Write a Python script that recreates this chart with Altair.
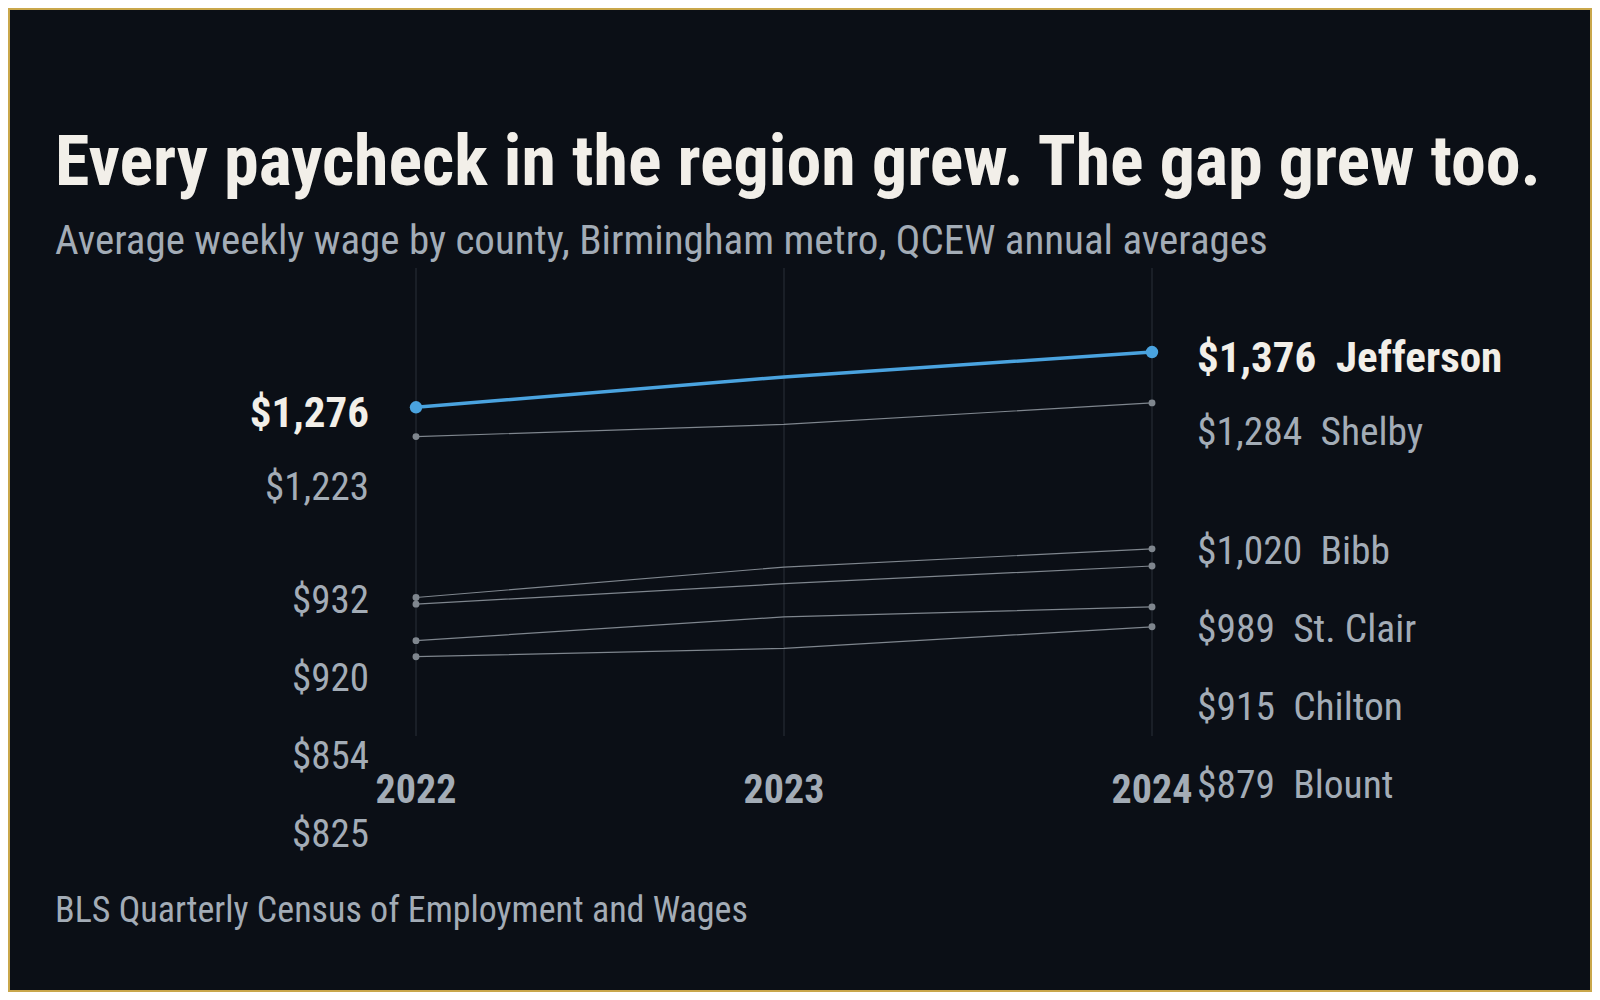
import pandas as pd
import altair as alt

# Average weekly wage (USD), Birmingham metro counties, QCEW annual averages
COUNTIES = ["Jefferson", "Shelby", "Bibb", "St. Clair", "Chilton", "Blount"]
YEARS = [2022, 2023, 2024]
WAGE_2022 = [1276, 1223, 932, 920, 854, 825]
WAGE_2023 = [1331, 1245, 987, 957, 897, 840]
WAGE_2024 = [1376, 1284, 1020, 989, 915, 879]
HIGHLIGHT = "Jefferson"

TITLE = "Every paycheck in the region grew. The gap grew too."
SUBTITLE = "Average weekly wage by county, Birmingham metro, QCEW annual averages"
SOURCE = "BLS Quarterly Census of Employment and Wages"

FONT = "Roboto Condensed"
BG = "#0b0f16"
GOLD = "#c9a74b"
INK = "#f2efe9"
MUTED = "#a3acb6"
GRID = "#2a3139"
GRAY = "#7f868e"
BLUE = "#4aa3df"

W, H = 736, 468
Y_DOMAIN = [681.5, 1528]
LABEL_GAP_PX = 78


def dodge(values):
    """Push labels apart (top to bottom) so they keep a minimum gap."""
    gap = LABEL_GAP_PX * (Y_DOMAIN[1] - Y_DOMAIN[0]) / H
    order = sorted(range(len(values)), key=lambda i: -values[i])
    pos = [0.0] * len(values)
    prev = None
    for i in order:
        p = values[i] if prev is None else min(values[i], prev - gap)
        pos[i] = p
        prev = p
    return pos


rows = []
for i, c in enumerate(COUNTIES):
    for y, w in zip(YEARS, [WAGE_2022[i], WAGE_2023[i], WAGE_2024[i]]):
        rows.append({"county": c, "year": y, "wage": w})
wages = pd.DataFrame(rows)

left_pos = dodge(WAGE_2022)
right_pos = dodge(WAGE_2024)
lab_rows = []
for i, c in enumerate(COUNTIES):
    lab_rows.append({"county": c, "side": "left", "year": 2022, "pos": left_pos[i],
                     "text": f"${WAGE_2022[i]:,}"})
    lab_rows.append({"county": c, "side": "right", "year": 2024, "pos": right_pos[i],
                     "text": f"${WAGE_2024[i]:,}\u00a0\u00a0{c}"})
labels = pd.DataFrame(lab_rows)
years_df = pd.DataFrame({"year": YEARS, "label": [str(y) for y in YEARS]})

x_scale = alt.Scale(domain=[2022, 2024], nice=False, zero=False)
y_scale = alt.Scale(domain=Y_DOMAIN, nice=False, zero=False)

# vertical year guides and bold year labels under them
grid = alt.Chart(years_df).mark_rule(color=GRID, strokeWidth=1).encode(
    x=alt.X("year:Q", scale=x_scale, axis=None),
    y=alt.value(0),
    y2=alt.value(H),
)
year_text = alt.Chart(years_df).mark_text(
    align="center", baseline="alphabetic", font=FONT, fontSize=40,
    fontWeight="bold", color=MUTED
).encode(
    x=alt.X("year:Q", scale=x_scale, axis=None),
    y=alt.value(H + 67),
    text="label:N",
)

base = alt.Chart(wages).encode(
    x=alt.X("year:Q", scale=x_scale, axis=None),
    y=alt.Y("wage:Q", scale=y_scale, axis=None),
    detail="county:N",
)
not_hl = alt.datum.county != HIGHLIGHT
is_hl = alt.datum.county == HIGHLIGHT
end_years = alt.datum.year != 2023

others_line = base.transform_filter(not_hl).mark_line(color=GRAY, strokeWidth=1.2)
others_pts = base.transform_filter(not_hl).transform_filter(end_years).mark_point(
    filled=True, color=GRAY, size=48, opacity=1
)
hl_line = base.transform_filter(is_hl).mark_line(color=BLUE, strokeWidth=3.5)
hl_pts = base.transform_filter(is_hl).transform_filter(end_years).mark_point(
    filled=True, color=BLUE, size=155, opacity=1
)

lab_base = alt.Chart(labels).encode(
    x=alt.X("year:Q", scale=x_scale, axis=None),
    y=alt.Y("pos:Q", scale=y_scale, axis=None),
    text="text:N",
)
left_reg = lab_base.transform_filter(alt.datum.side == "left").transform_filter(not_hl).mark_text(
    align="right", baseline="alphabetic", dx=-47, dy=15, font=FONT, fontSize=39, color=MUTED
)
left_bold = lab_base.transform_filter(alt.datum.side == "left").transform_filter(is_hl).mark_text(
    align="right", baseline="alphabetic", dx=-47, dy=20, font=FONT, fontSize=43,
    fontWeight="bold", color=INK
)
right_reg = lab_base.transform_filter(alt.datum.side == "right").transform_filter(not_hl).mark_text(
    align="left", baseline="alphabetic", dx=45, dy=15, font=FONT, fontSize=39.5, color=MUTED
)
right_bold = lab_base.transform_filter(alt.datum.side == "right").transform_filter(is_hl).mark_text(
    align="left", baseline="alphabetic", dx=45, dy=20, font=FONT, fontSize=43,
    fontWeight="bold", color=INK
)

# headline, dek and source line, placed relative to the plot area
title = alt.Chart(pd.DataFrame({"t": [TITLE]})).mark_text(
    align="left", baseline="alphabetic", font=FONT, fontSize=70, fontWeight="bold", color=INK
).encode(x=alt.value(-361), y=alt.value(-83), text="t:N")
subtitle = alt.Chart(pd.DataFrame({"t": [SUBTITLE]})).mark_text(
    align="left", baseline="alphabetic", font=FONT, fontSize=41, color=MUTED
).encode(x=alt.value(-361), y=alt.value(-14), text="t:N")
source = alt.Chart(pd.DataFrame({"t": [SOURCE]})).mark_text(
    align="left", baseline="alphabetic", font=FONT, fontSize=36, color=MUTED
).encode(x=alt.value(-361), y=alt.value(654), text="t:N")

frame = alt.Chart(pd.DataFrame({"k": [0]})).mark_rect(
    fillOpacity=0, stroke=GOLD, strokeWidth=2
).encode(x=alt.value(-407), x2=alt.value(1175), y=alt.value(-259), y2=alt.value(723))

chart = alt.layer(
    frame, grid, year_text, others_line, hl_line, others_pts, hl_pts,
    left_reg, left_bold, right_reg, right_bold,
    title, subtitle, source,
).properties(
    width=W, height=H, background=BG, padding=0,
).configure_view(strokeWidth=0)

chart.save("out.html", embed_options={"renderer": "svg", "actions": False})
